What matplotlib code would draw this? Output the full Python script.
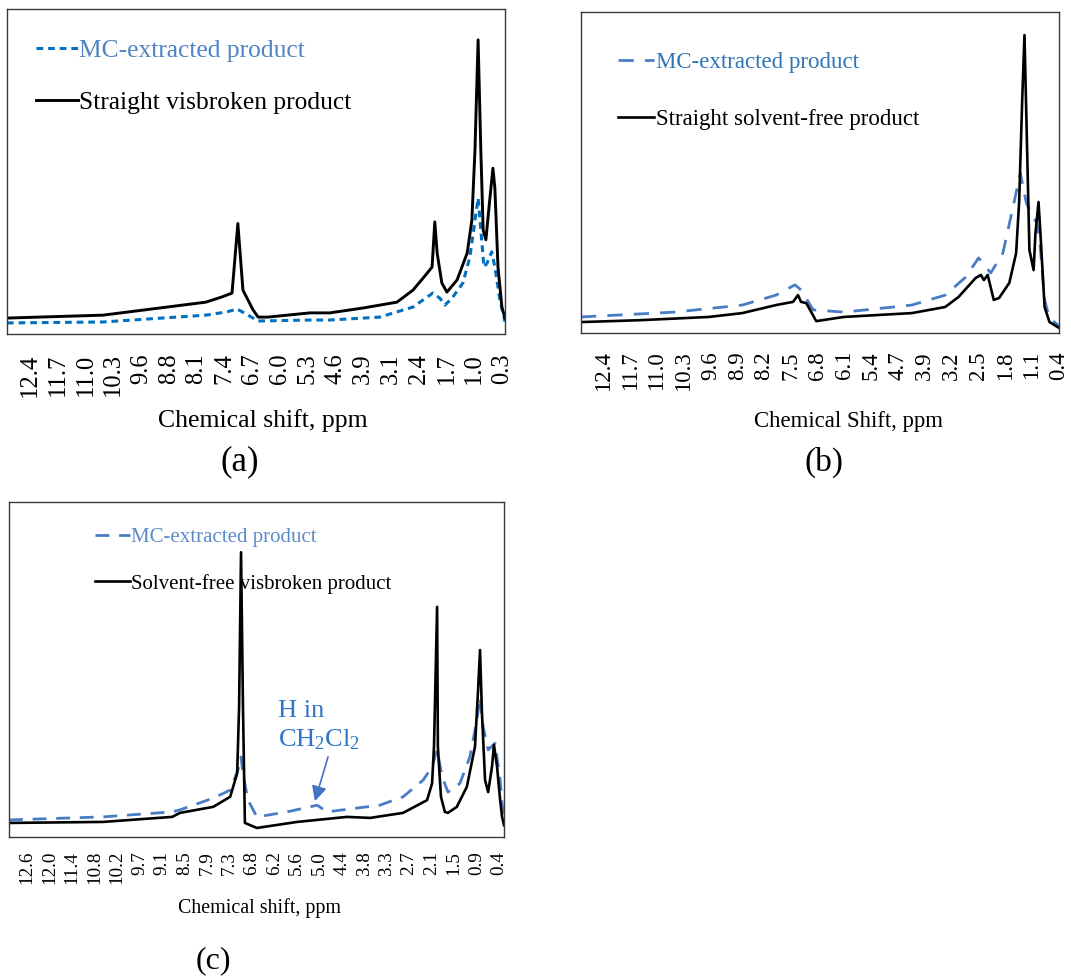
import numpy as np
import matplotlib
matplotlib.use("Agg")
import matplotlib.pyplot as plt

plt.rcParams["font.family"] = ["Liberation Serif", "DejaVu Serif"]
plt.rcParams["mathtext.fontset"] = "custom"
plt.rcParams["mathtext.rm"] = "Liberation Serif"
plt.rcParams["mathtext.it"] = "Liberation Serif:italic"

# ---------------- (a) MC-extracted vs straight visbroken product ----------------
a_black_ppm = [12.99, 10.53, 7.89, 7.48, 7.22, 7.07, 6.94, 6.68, 6.55, 6.30, 5.22, 4.71,
               3.86, 2.99, 2.58, 2.32, 2.09, 2.02, 1.96, 1.84, 1.71, 1.45, 1.19, 1.07,
               0.99, 0.91, 0.84, 0.78, 0.71, 0.63, 0.53, 0.48, 0.40, 0.30, 0.22]
a_black_int = [4.9, 5.8, 9.8, 11.4, 12.6, 34.0, 13.5, 7.4, 5.2, 5.2, 6.5, 6.5,
               8.0, 9.8, 13.5, 17.2, 20.6, 34.5, 24.9, 15.7, 12.9, 16.6, 24.9, 35.0,
               56.6, 90.5, 56.6, 32.0, 29.0, 39.0, 51.0, 45.0, 20.6, 8.3, 4.9]
a_blue_ppm = [12.99, 10.53, 7.89, 7.35, 7.09, 6.81, 6.55, 5.22, 4.71, 3.43, 2.58, 2.07,
              1.89, 1.76, 1.58, 1.30, 1.12, 0.99, 0.91, 0.84, 0.76, 0.68, 0.56, 0.48,
              0.35, 0.22]
a_blue_int = [3.4, 3.7, 5.8, 6.8, 7.7, 5.8, 4.0, 4.3, 4.3, 5.2, 8.3, 12.6,
              11.0, 8.9, 11.0, 15.7, 23.7, 35.0, 41.8, 32.0, 20.6, 21.8, 25.3, 20.6,
              10.5, 3.8]
a_ticks = ["12.4", "11.7", "11.0", "10.3", "9.6", "8.8", "8.1", "7.4", "6.7", "6.0",
           "5.3", "4.6", "3.9", "3.1", "2.4", "1.7", "1.0", "0.3"]

# ---------------- (b) MC-extracted vs straight solvent-free product ----------------
b_black_ppm = [12.99, 11.41, 9.62, 8.74, 7.85, 7.40, 7.27, 7.19, 7.05, 6.79, 6.06, 4.27,
               3.39, 3.04, 2.59, 2.45, 2.37, 2.27, 2.11, 1.97, 1.70, 1.52, 1.44, 1.36,
               1.30, 1.22, 1.17, 1.06, 1.01, 0.93, 0.88, 0.77, 0.64, 0.39]
b_black_int = [3.4, 4.0, 5.0, 6.2, 8.7, 9.7, 11.8, 9.7, 9.3, 3.7, 5.0, 6.2,
               8.1, 11.2, 17.1, 18.1, 16.5, 18.1, 10.3, 10.9, 15.6, 24.9, 41.0, 72.6,
               92.8, 51.7, 25.9, 19.6, 31.2, 40.8, 31.2, 8.1, 3.4, 1.6]
b_blue_ppm = [12.99, 10.53, 8.74, 7.85, 7.35, 7.19, 6.87, 6.06, 4.27, 3.39, 2.85, 2.51,
              2.19, 1.87, 1.60, 1.41, 1.25, 1.12, 0.98, 0.90, 0.77, 0.64, 0.39]
b_blue_int = [5.0, 6.5, 8.7, 11.8, 15.0, 13.4, 7.2, 6.5, 8.7, 11.8, 17.4, 23.4,
              18.7, 24.9, 39.3, 49.8, 40.5, 37.4, 34.3, 29.0, 10.3, 4.7, 2.2]
b_ticks = ["12.4", "11.7", "11.0", "10.3", "9.6", "8.9", "8.2", "7.5", "6.8", "6.1",
           "5.4", "4.7", "3.9", "3.2", "2.5", "1.8", "1.1", "0.4"]

# ---------------- (c) MC-extracted vs solvent-free visbroken product ----------------
c_black_ppm = [13.07, 10.64, 8.85, 8.65, 7.79, 7.35, 7.17, 7.12, 7.07, 7.02, 6.97, 6.66,
               5.62, 4.33, 3.73, 2.88, 2.26, 2.13, 2.08, 2.00, 1.98, 1.90, 1.80, 1.72,
               1.49, 1.23, 1.02, 0.94, 0.89, 0.84, 0.76, 0.68, 0.58, 0.53, 0.45, 0.37,
               0.32, 0.27]
c_black_int = [4.2, 4.5, 6.0, 7.2, 9.0, 12.0, 19.0, 39.0, 85.0, 39.0, 4.2, 2.7,
               4.5, 6.0, 5.7, 7.2, 11.0, 16.0, 27.0, 68.7, 27.0, 12.0, 7.5, 7.2,
               9.0, 15.0, 27.0, 44.0, 55.8, 37.0, 17.0, 13.4, 21.0, 27.5, 21.0, 11.0,
               6.0, 3.5]
c_blue_ppm = [13.07, 10.64, 8.85, 8.65, 7.79, 7.35, 7.15, 7.07, 7.02, 6.89, 6.66, 5.88,
              5.10, 4.85, 3.48, 2.88, 2.36, 2.13, 2.00, 1.87, 1.72, 1.41, 1.15, 0.97,
              0.89, 0.81, 0.68, 0.50, 0.37, 0.32, 0.27]
c_blue_int = [5.1, 6.0, 7.5, 8.1, 11.6, 14.0, 20.0, 23.9, 19.0, 11.0, 6.0, 7.5,
              9.5, 7.5, 9.5, 12.0, 17.0, 21.0, 26.0, 18.0, 13.4, 16.0, 24.0, 35.0,
              41.8, 33.0, 26.0, 28.0, 17.0, 10.0, 6.0]
c_ticks = ["12.6", "12.0", "11.4", "10.8", "10.2", "9.7", "9.1", "8.5", "7.9", "7.3",
           "6.8", "6.2", "5.6", "5.0", "4.4", "3.8", "3.3", "2.7", "2.1", "1.5", "0.9", "0.4"]

W, H = 1071, 977
fig = plt.figure(figsize=(W / 100, H / 100), dpi=100)


def px_axes(left, top, right, bottom):
    return fig.add_axes([left / W, 1 - bottom / H, (right - left) / W, (bottom - top) / H])


def style_axes(ax, ticks, xlim, tick_fs, tick_pad):
    ax.set_xlim(*xlim)
    ax.set_ylim(0, 100)
    first, last = float(ticks[0]), float(ticks[-1])
    ax.set_xticks(np.linspace(first, last, len(ticks)))
    ax.set_xticklabels(ticks, rotation=90, fontsize=tick_fs)
    ax.tick_params(axis="x", length=0, pad=tick_pad)
    ax.set_yticks([])
    for s in ax.spines.values():
        s.set_color("#3a3a3a")
        s.set_linewidth(1.0)


def add_legend(ax, anchor, fs, spacing, hlen, colors):
    leg = ax.legend(loc="upper left", bbox_to_anchor=anchor, frameon=False, fontsize=fs,
                    labelspacing=spacing, handlelength=hlen, handletextpad=0.05,
                    borderpad=0, borderaxespad=0)
    for txt, col in zip(leg.get_texts(), colors):
        txt.set_color(col)
    return leg


# (a)
ax_a = px_axes(7, 9, 505, 334)
ax_a.plot(a_blue_ppm, a_blue_int, color="#0070C0", lw=2.2, dashes=(2.2, 1.6),
          label="MC-extracted product")
ax_a.plot(a_black_ppm, a_black_int, color="black", lw=2.1, label="Straight visbroken product")
style_axes(ax_a, a_ticks, (12.99, 0.22), 17.7, 14)
add_legend(ax_a, (0.058, 0.908), 18.4, 1.13, 1.65, ["#4F84C4", "black"])
fig.text(263 / W, 1 - 421 / H, "Chemical shift, ppm", fontsize=18.5, ha="center", va="center")
fig.text(240 / W, 1 - 462 / H, "(a)", fontsize=25, ha="center", va="center")

# (b)
ax_b = px_axes(581, 12, 1059, 333)
ax_b.plot(b_blue_ppm, b_blue_int, color="#4A7CC4", lw=2.0, dashes=(5.5, 4.0),
          label="MC-extracted product")
ax_b.plot(b_black_ppm, b_black_int, color="black", lw=1.9, label="Straight solvent-free product")
style_axes(ax_b, b_ticks, (12.99, 0.39), 16.5, 13)
add_legend(ax_b, (0.077, 0.874), 16.5, 1.54, 1.6, ["#2E75B6", "black"])
fig.text(848 / W, 1 - 421 / H, "Chemical Shift, ppm", fontsize=16.4, ha="center", va="center")
fig.text(824 / W, 1 - 462 / H, "(b)", fontsize=24, ha="center", va="center")

# (c)
ax_c = px_axes(9, 502, 504, 837)
ax_c.plot(c_blue_ppm, c_blue_int, color="#4A7CC4", lw=2.0, dashes=(5.0, 3.5),
          label="MC-extracted product")
ax_c.plot(c_black_ppm, c_black_int, color="black", lw=1.9, label="Solvent-free visbroken product")
style_axes(ax_c, c_ticks, (13.07, 0.27), 13.7, 10)
add_legend(ax_c, (0.174, 0.923), 15.0, 1.26, 1.65, ["#5B8BC9", "black"])
ax_c.text(6.11, 41.0, "H in\nCH$_2$Cl$_2$", color="#2E75C6", fontsize=19, ha="left", va="top",
          linespacing=1.3)
ax_c.annotate("", xy=(5.16, 10.7), xytext=(4.82, 23.9),
              arrowprops=dict(arrowstyle="-|>,head_length=0.9,head_width=0.45",
                              color="#4472C4", lw=1.2, shrinkA=0, shrinkB=0))
fig.text(259 / W, 1 - 908 / H, "Chemical shift, ppm", fontsize=14.4, ha="center", va="center")
fig.text(213 / W, 1 - 961 / H, "(c)", fontsize=23, ha="center", va="center")

fig.savefig("out.png", dpi=100)
